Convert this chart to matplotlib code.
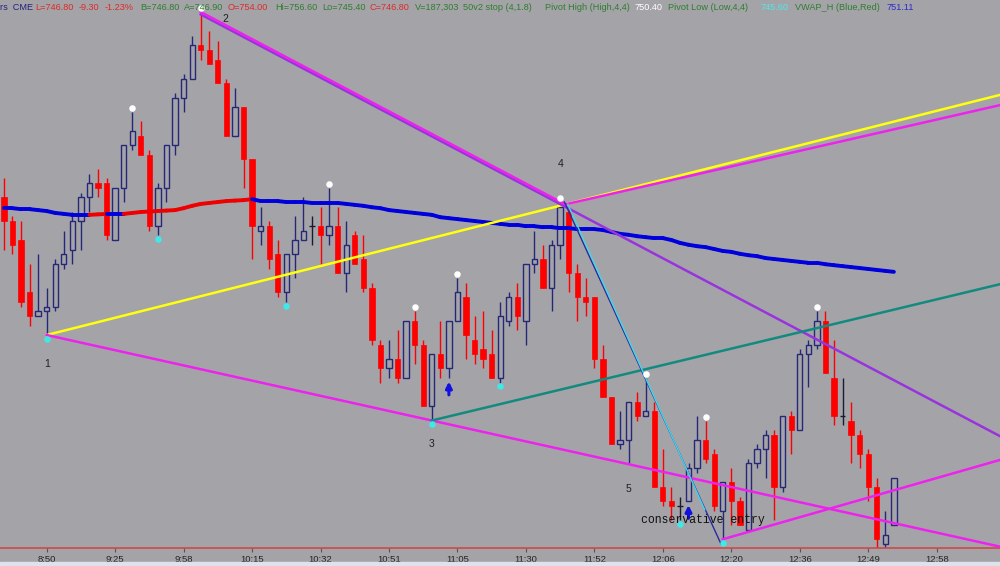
import numpy as np
import matplotlib.pyplot as plt
from matplotlib.collections import LineCollection
from matplotlib.patches import Rectangle

plt.rcParams['font.family'] = ['Liberation Sans', 'DejaVu Sans']

# OHLC per bar (tick chart, one entry per bar)
opens = [752.7, 752.2, 751.8, 750.7, 750.2, 750.3, 750.4, 751.3, 751.6, 752.2,
         752.7, 753.0, 753.0, 751.8, 752.9, 753.8, 754.0, 753.6, 752.1, 752.9,
         753.8, 754.8, 755.2, 755.9, 755.8, 755.6, 755.1, 754.0, 754.6, 753.5,
         752.0, 752.1, 751.5, 750.7, 751.5, 751.8, 752.1, 752.1, 751.9, 752.1,
         751.1, 751.9, 751.4, 750.8, 749.6, 749.1, 749.3, 748.9, 750.1, 749.6,
         748.3, 749.4, 749.1, 750.1, 750.6, 749.7, 749.5, 749.4, 748.9, 750.1,
         750.6, 750.1, 751.3, 751.4, 750.8, 751.7, 752.4, 751.1, 750.6, 750.6,
         749.3, 748.5, 747.5, 747.6, 748.4, 748.1, 748.2, 746.6, 746.3, 746.2,
         746.3, 747.0, 747.6, 747.3, 746.1, 746.7, 746.3, 745.7, 747.1, 747.4,
         747.7, 746.6, 748.1, 747.8, 749.4, 749.6, 750.1, 748.9, 748.1, 748.0,
         747.7, 747.3, 746.6, 745.4, 745.8]
highs = [753.1, 752.3, 752.2, 751.3, 751.5, 750.8, 751.4, 752.0, 752.4, 752.8,
         753.2, 753.3, 753.1, 752.9, 753.8, 754.5, 754.3, 753.7, 753.0, 753.8,
         754.9, 755.3, 756.1, 756.6, 756.2, 756.0, 755.2, 755.0, 754.6, 753.5,
         752.5, 752.2, 751.8, 751.5, 752.3, 752.7, 752.3, 752.5, 752.9, 752.5,
         752.2, 752.0, 751.9, 750.9, 749.7, 749.7, 749.9, 750.1, 750.3, 749.7,
         749.4, 750.1, 750.1, 751.0, 750.9, 750.2, 750.3, 749.9, 750.5, 750.7,
         750.9, 751.3, 752.0, 751.7, 751.8, 752.6, 752.5, 751.3, 751.0, 750.6,
         749.6, 748.5, 748.2, 748.4, 748.6, 748.9, 748.4, 747.4, 746.6, 746.4,
         747.1, 748.1, 748.0, 747.4, 746.7, 747.0, 746.4, 747.2, 747.5, 747.8,
         747.8, 748.1, 748.2, 749.5, 749.7, 750.3, 750.3, 749.7, 748.9, 748.4,
         747.8, 747.4, 746.8, 746.1, 746.8]
lows = [751.6, 751.5, 750.4, 750.0, 750.2, 749.8, 750.3, 751.2, 751.3, 751.6,
        752.4, 752.7, 751.8, 751.8, 752.6, 753.7, 753.6, 752.0, 751.9, 752.6,
        753.6, 754.5, 755.2, 755.6, 755.5, 755.1, 754.0, 754.0, 752.9, 751.4,
        751.7, 751.2, 750.6, 750.5, 751.0, 751.8, 751.7, 751.3, 751.7, 751.1,
        750.7, 751.3, 750.7, 749.6, 748.8, 748.9, 748.8, 748.9, 749.2, 748.3,
        748.0, 748.9, 748.9, 750.1, 749.3, 749.2, 749.1, 748.9, 748.8, 750.0,
        749.9, 749.6, 751.1, 750.8, 750.3, 751.4, 750.7, 750.1, 750.2, 749.1,
        748.5, 747.5, 747.4, 747.1, 748.0, 748.1, 746.6, 746.2, 745.9, 745.9,
        746.3, 746.9, 747.1, 746.1, 745.5, 745.8, 745.8, 745.7, 747.0, 746.8,
        745.9, 746.5, 747.3, 747.8, 748.7, 749.5, 749.0, 747.9, 747.9, 747.1,
        747.0, 746.3, 745.3, 745.3, 745.8]
closes = [752.2, 751.7, 750.5, 750.2, 750.3, 750.4, 751.3, 751.5, 752.2, 752.7,
          753.0, 752.9, 751.9, 752.9, 753.8, 754.1, 753.6, 752.1, 752.9, 753.8,
          754.8, 755.2, 755.9, 755.8, 755.5, 755.1, 754.0, 754.6, 753.5, 752.1,
          752.1, 751.4, 750.7, 751.5, 751.8, 752.0, 752.1, 751.9, 752.1, 751.1,
          751.7, 751.3, 750.8, 749.7, 749.1, 749.3, 748.9, 750.1, 749.6, 748.3,
          749.4, 749.1, 750.1, 750.7, 749.8, 749.4, 749.3, 748.9, 750.2, 750.6,
          750.2, 751.3, 751.4, 750.8, 751.7, 752.5, 751.1, 750.6, 750.5, 749.3,
          748.5, 747.5, 747.6, 748.4, 748.1, 748.2, 746.6, 746.3, 746.2, 746.2,
          747.0, 747.6, 747.2, 746.2, 746.7, 746.3, 745.8, 747.1, 747.4, 747.7,
          746.6, 748.1, 747.8, 749.4, 749.6, 750.1, 749.0, 748.1, 748.1, 747.7,
          747.3, 746.6, 745.5, 745.6, 746.8]
vwap = [752.47, 752.47, 752.45, 752.45, 752.43, 752.41, 752.37, 752.35, 752.33, 752.33,
        752.33, 752.34, 752.35, 752.35, 752.35, 752.37, 752.39, 752.40, 752.41, 752.42,
        752.43, 752.47, 752.52, 752.56, 752.58, 752.60, 752.62, 752.63, 752.64, 752.66,
        752.62, 752.62, 752.62, 752.60, 752.60, 752.60, 752.58, 752.58, 752.58, 752.58,
        752.56, 752.54, 752.52, 752.49, 752.47, 752.43, 752.41, 752.39, 752.37, 752.35,
        752.33, 752.28, 752.26, 752.24, 752.22, 752.20, 752.18, 752.16, 752.14, 752.12,
        752.12, 752.09, 752.09, 752.07, 752.07, 752.05, 752.05, 752.03, 752.03, 752.03,
        752.01, 751.97, 751.93, 751.91, 751.88, 751.86, 751.84, 751.84, 751.80, 751.74,
        751.70, 751.67, 751.65, 751.61, 751.57, 751.55, 751.51, 751.48, 751.46, 751.42,
        751.40, 751.38, 751.36, 751.34, 751.32, 751.32, 751.29, 751.27, 751.25, 751.23,
        751.21, 751.19, 751.17, 751.15, 751.13]

time_labels = ['8:50', '9:25', '9:58', '10:15', '10:32', '10:51', '11:05',
               '11:30', '11:52', '12:06', '12:20', '12:36', '12:49', '12:58']
label_bars = [5, 13, 21, 29, 37, 45, 53, 61, 69, 77, 85, 93, 101, 109]

pivot_high_bars = [15, 23, 38, 48, 53, 65, 75, 82, 95]
pivot_low_bars = [5, 18, 33, 50, 58, 79, 84]
arrow_bars = [52, 80]

# wave points (bar, price) and labels
wave_names = ['1', '2', '3', '4', '5']
wave_bars = [5, 23, 50, 65.6, 84]
wave_prices = [749.8, 756.6, 748.0, 752.55, 745.5]
wave_label_bars = [5, 25.9, 50, 65, 73]
wave_label_prices = [749.2, 756.45, 747.5, 753.4, 746.55]

x_right = 116.4

bg = '#a4a4a8'
hollow_edge = '#27277a'
red = '#ff0000'

n = len(opens)
x = np.arange(n)
o = np.array(opens); h = np.array(highs); l = np.array(lows); c = np.array(closes)

fig = plt.figure(figsize=(10, 5.66), dpi=100, facecolor=bg)
ax = fig.add_axes([0, 18 / 566, 1, 548 / 566])
ax.set_facecolor(bg)
fig.patches.append(Rectangle((0, 0), 1, 4 / 566, transform=fig.transFigure,
                             color='#dde3ea', zorder=0))

up = c > o
down = c < o
flat = c == o

# wicks
wick_cols = np.where(down, red, hollow_edge)
wick_cols = np.where(flat, '#1a1a30', wick_cols)
ax.vlines(x, l, h, colors=wick_cols, lw=1.0, zorder=2)

w = 0.62
ax.bar(x[down], (o - c)[down], bottom=c[down], width=w, color=red,
       edgecolor=red, lw=0.5, zorder=3)
ax.bar(x[up], (c - o)[up], bottom=o[up], width=w, color=bg,
       edgecolor=hollow_edge, lw=1.0, zorder=3)
ax.hlines(c[flat], x[flat] - w / 2, x[flat] + w / 2, colors='#1a1a30', lw=1.0, zorder=3)

# VWAP, red while rising, blue otherwise
v = np.array(vwap)
segs = [[(x[i], v[i]), (x[i + 1], v[i + 1])] for i in range(n - 1)]
seg_cols = ['#ee0000' if v[i + 1] > v[i] else '#0000dd' for i in range(n - 1)]
ax.add_collection(LineCollection(segs, colors=seg_cols, lw=2.8,
                                 capstyle='round', zorder=4))


def extend(p, q, xe):
    k = (q[1] - p[1]) / (q[0] - p[0])
    return [p[0], xe], [p[1], p[1] + k * (xe - p[0])]


p1, p2, p3, p4, p5 = list(zip(wave_bars, wave_prices))

xs, ys = extend(p1, p4, x_right)
ax.plot(xs, ys, color='#ffff10', lw=1.8, zorder=5)
xs, ys = extend(p1, p3, x_right)
ax.plot(xs, ys, color='#ee22ee', lw=1.8, zorder=5)
xs, ys = extend((23, 756.55), (65.6, 752.5), x_right)
ax.plot(xs, ys, color='#9933dd', lw=1.8, zorder=5)
ax.plot([p2[0], p4[0]], [p2[1], p4[1]], color='#ee22ee', lw=1.8, zorder=5)
ax.plot([p4[0], x_right], [p4[1], 754.64], color='#ee22ee', lw=1.8, zorder=5)
ax.plot([p3[0], x_right], [p3[1], 750.87], color='#138a80', lw=1.8, zorder=5)
ax.plot([p5[0], x_right], [p5[1], 747.17], color='#ee22ee', lw=1.8, zorder=5)
ax.plot([65.5, 83.8], [752.6, 745.4], color='#2a2aa0', lw=1.0, zorder=5)
ax.plot([65.9, 81.9], [752.55, 746.12], color='#40d8e8', lw=1.0, zorder=5)

# pivot dots
ax.scatter(x[pivot_high_bars], h[pivot_high_bars] + 0.08, s=22, color='white',
           lw=0, zorder=6)
ax.scatter(x[pivot_low_bars], l[pivot_low_bars] - 0.08, s=22, color='#40e8e8',
           lw=0, zorder=6)

for b in arrow_bars:
    ax.annotate('', xy=(b, lows[b] - 0.08), xytext=(b, lows[b] - 0.36),
                arrowprops=dict(arrowstyle='-|>', color='#1010e0', lw=2.2,
                                mutation_scale=9, shrinkA=0, shrinkB=0),
                zorder=6)

for name, bx, py in zip(wave_names, wave_label_bars, wave_label_prices):
    ax.text(bx, py, name, fontsize=7.5, color='#202020', ha='center',
            va='center', zorder=7)
ax.text(74.4, 745.9, 'conservative entry', fontsize=8.3, color='#101010',
        family='Liberation Mono', ha='left', va='center', zorder=7)

ax.set_xlim(-0.456, x_right)
ax.set_ylim(745.316, 756.853)
ax.set_yticks([])
ax.set_xticks(label_bars)
ax.set_xticklabels(time_labels)
ax.tick_params(axis='x', direction='out', length=3, color='#555555',
               labelsize=6.8, labelcolor='#222222', pad=2)
for s in ['top', 'left', 'right']:
    ax.spines[s].set_visible(False)
ax.spines['bottom'].set_color('#d04848')
ax.spines['bottom'].set_linewidth(1.2)

# status line at top
header_text = ['rs  CME', 'L=746.80', '-9.30', '-1.23%', 'B=746.80', 'A=746.90',
               'O=754.00', 'Hi=756.60', 'Lo=745.40', 'C=746.80', 'V=187,303',
               '50v2 stop (4,1.8)', 'Pivot High (High,4,4)', '750.40',
               'Pivot Low (Low,4,4)', '745.60', 'VWAP_H (Blue,Red)', '751.11']
header_colors = ['#22227a', '#dd2a2a', '#dd2a2a', '#dd2a2a', '#2f7d2f', '#2f7d2f',
                 '#dd2a2a', '#2f7d2f', '#2f7d2f', '#dd2a2a', '#2f7d2f',
                 '#2f7d2f', '#2f7d2f', '#ffffff', '#2f7d2f', '#50e8e8',
                 '#2f7d2f', '#2a2ad0']
header_x = [0, 35, 79, 105, 140, 184, 228, 275, 322, 370, 415, 463, 545, 635,
            668, 761, 795, 887]
for t, col, hx in zip(header_text, header_colors, header_x):
    fig.text(hx / 1000, 1 - 7 / 566, t, color=col, fontsize=6.6, va='center',
             ha='left')

fig.savefig('out.png', dpi=100, facecolor=bg)
